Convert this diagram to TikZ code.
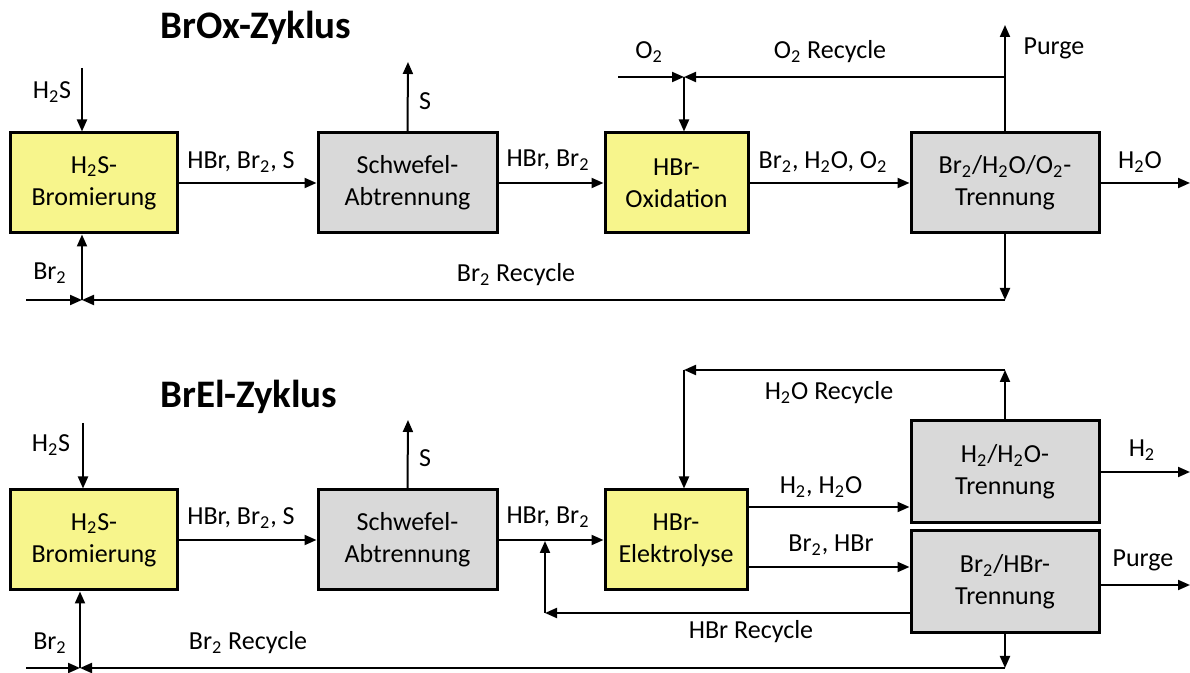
\documentclass[tikz,border=0pt]{standalone}
\usepackage{fontspec}
\setmainfont{Carlito}
\usetikzlibrary{arrows.meta}

\definecolor{boxyellow}{RGB}{247,245,140}
\definecolor{boxgray}{RGB}{217,217,217}
\newcommand{\zwei}{\textsubscript{2}}

\tikzset{
  unitbox/.style={draw, line width=1.5pt, align=center, inner sep=0pt,
    minimum height=50pt, font=\fontsize{13}{16}\selectfont},
  yellowbox/.style={unitbox, fill=boxyellow},
  graybox/.style={unitbox, fill=boxgray},
  flow/.style={-{Triangle[length=6pt,width=5pt]}, line width=1pt},
  lbl/.style={inner sep=0pt, font=\fontsize{13}{16}\selectfont},
  title/.style={inner sep=0pt, font=\bfseries\fontsize{19.5}{23}\selectfont}
}

\begin{document}
\begin{tikzpicture}[x=0.5pt, y=-0.5pt]
    \useasboundingbox (0,0) rectangle (1190,673);

    % Titles of the two cycles
    \node[title] (titleox) at (256,28) {BrOx-Zyklus};
    \node[title] (titleel) at (249,397) {BrEl-Zyklus};

    % BrOx cycle: process units
    \node[yellowbox, minimum width=83.5pt] (bromA) at (94,183) {H\zwei S-\\Bromierung};
    \node[graybox, minimum width=89.5pt] (schwA) at (407.5,183) {Schwefel-\\Abtrennung};
    \node[yellowbox, minimum width=71.5pt] (oxid) at (676.5,183) {HBr-\\Oxidation};
    \node[graybox, minimum width=94pt] (trennA) at (1005,183) {Br\zwei/H\zwei O/O\zwei-\\Trennung};

    % BrOx cycle: feed, product and junction points
    \coordinate (h2sA) at (82,68);
    \coordinate (brinA) at (26,300);
    \coordinate (brjA) at (82,300);
    \coordinate (sA) at (408,62);
    \coordinate (o2in) at (618,77);
    \coordinate (o2j) at (684,77);
    \coordinate (o2r) at (1005,77);
    \coordinate (purgeA) at (1005,25);
    \coordinate (brrA) at (1005,300);
    \coordinate (h2oout) at (1190,183);

    % BrOx cycle: streams
    \draw[flow] (h2sA) -- (h2sA |- bromA.north);
    \draw[flow] (bromA.east) -- (schwA.west);
    \draw[flow] (schwA.north) -- (sA);
    \draw[flow] (schwA.east) -- (oxid.west);
    \draw[flow] (oxid.east) -- (trennA.west);
    \draw[flow] (trennA.east) -- (h2oout);
    \draw[flow] (trennA.north) -- (purgeA);
    \draw[flow] (o2r) -- (o2j);
    \draw[flow] (o2in) -- (o2j);
    \draw[flow] (o2j) -- (o2j |- oxid.north);
    \draw[flow] (trennA.south) -- (brrA);
    \draw[flow] (brrA) -- (brjA);
    \draw[flow] (brinA) -- (brjA);
    \draw[flow] (brjA) -- (brjA |- bromA.south);

    % BrOx cycle: stream labels
    \node[lbl] (lh2sA) at (52,92) {H\zwei S};
    \node[lbl] (lbrA) at (50,273) {Br\zwei};
    \node[lbl] (lmixA) at (241,162) {HBr, Br\zwei, S};
    \node[lbl] (lsA) at (425,101) {S};
    \node[lbl] (lhbrA) at (548,160) {HBr, Br\zwei};
    \node[lbl] (lox) at (823,162) {Br\zwei, H\zwei O, O\zwei};
    \node[lbl] (lh2oA) at (1140,162) {H\zwei O};
    \node[lbl] (lpurgeA) at (1054,48) {Purge};
    \node[lbl] (lo2) at (649,52) {O\zwei};
    \node[lbl] (lo2r) at (830,52) {O\zwei~Recycle};
    \node[lbl] (lbrrA) at (516,275) {Br\zwei~Recycle};

    % BrEl cycle: process units
    \node[yellowbox, minimum width=83.5pt] (bromB) at (94,540) {H\zwei S-\\Bromierung};
    \node[graybox, minimum width=89.5pt] (schwB) at (407.5,540) {Schwefel-\\Abtrennung};
    \node[yellowbox, minimum width=71pt] (elek) at (676,540) {HBr-\\Elektrolyse};
    \node[graybox, minimum width=94pt, minimum height=51pt] (trennH) at (1005,472) {H\zwei/H\zwei O-\\Trennung};
    \node[graybox, minimum width=94pt, minimum height=51pt] (trennBr) at (1005,582) {Br\zwei/HBr-\\Trennung};

    % BrEl cycle: feed, product and junction points
    \coordinate (h2sB) at (83,423);
    \coordinate (brinB) at (26,668);
    \coordinate (brjB) at (80,668);
    \coordinate (sB) at (408,420);
    \coordinate (hbrj) at (545,541);
    \coordinate (hbrc) at (545,613);
    \coordinate (h2orR) at (1005,370);
    \coordinate (h2orL) at (684,370);
    \coordinate (h2y) at (0,507);
    \coordinate (bry) at (0,567);
    \coordinate (h2out) at (1190,472);
    \coordinate (purgeB) at (1190,585);
    \coordinate (brrB) at (1005,668);

    % BrEl cycle: streams
    \draw[flow] (h2sB) -- (h2sB |- bromB.north);
    \draw[flow] (bromB.east) -- (schwB.west);
    \draw[flow] (schwB.north) -- (sB);
    \draw[flow] (schwB.east) -- (elek.west);
    \draw[flow] (elek.east |- h2y) -- (trennH.west |- h2y);
    \draw[flow] (elek.east |- bry) -- (trennBr.west |- bry);
    \draw[flow] (trennH.east) -- (h2out);
    \draw[flow] (trennBr.east |- purgeB) -- (purgeB);
    \draw[flow] (trennH.north) -- (h2orR);
    \draw[flow] (h2orR) -- (h2orL);
    \draw[flow] (h2orL) -- (h2orL |- elek.north);
    \draw[flow] (trennBr.west |- hbrc) -- (hbrc);
    \draw[flow] (hbrc) -- (hbrj);
    \draw[flow] (trennBr.south) -- (brrB);
    \draw[flow] (brrB) -- (brjB);
    \draw[flow] (brinB) -- (brjB);
    \draw[flow] (brjB) -- (brjB |- bromB.south);

    % BrEl cycle: stream labels
    \node[lbl] (lh2sB) at (51,445) {H\zwei S};
    \node[lbl] (lbrB) at (50,643) {Br\zwei};
    \node[lbl] (lbrrB) at (248,643) {Br\zwei~Recycle};
    \node[lbl] (lmixB) at (241,518) {HBr, Br\zwei, S};
    \node[lbl] (lsB) at (425,458) {S};
    \node[lbl] (lhbrB) at (548,517) {HBr, Br\zwei};
    \node[lbl] (lh2or) at (829,393) {H\zwei O~Recycle};
    \node[lbl] (lh2mix) at (821,487) {H\zwei, H\zwei O};
    \node[lbl] (lbrmix) at (831,545) {Br\zwei, HBr};
    \node[lbl] (lh2) at (1142,450) {H\zwei};
    \node[lbl] (lpurgeB) at (1143,560) {Purge};
    \node[lbl] (lhbrr) at (751,632) {HBr Recycle};
\end{tikzpicture}
\end{document}
